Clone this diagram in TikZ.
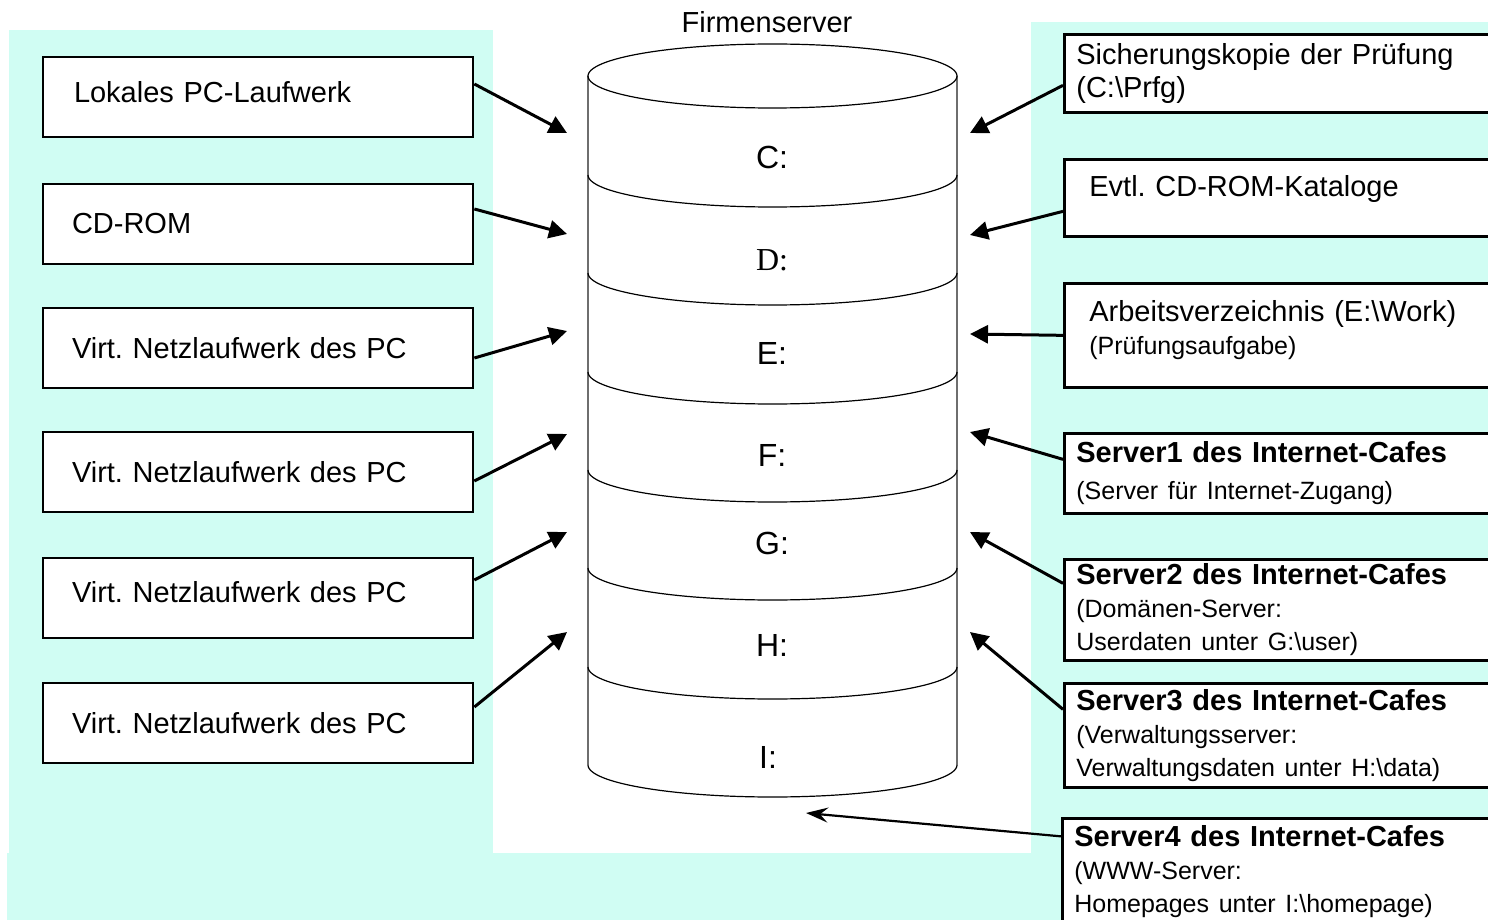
\documentclass[tikz,border=0pt]{standalone}
\usepackage{fontspec}
\setmainfont{Liberation Sans}
\newfontfamily\serifD{Liberation Serif}
\usetikzlibrary{arrows.meta,calc}
\definecolor{bgcyan}{RGB}{208,253,243}
\definecolor{sidegray}{RGB}{110,110,110}
\newcommand\subt{\fontsize{25}{29}\selectfont}
\begin{document}
\frenchspacing
\begin{tikzpicture}[x=1pt,y=-1pt,
  mainfont/.style={font=\fontsize{29}{33}\selectfont},
  lbox/.style={draw, line width=2.7pt, fill=white, minimum width=430pt, minimum height=80pt,
    text width=372pt, inner xsep=29pt, align=left, mainfont},
  rbox/.style={draw, line width=2.7pt, fill=white, anchor=north west, minimum width=500pt,
    text width=476pt, inner xsep=12pt, align=left, mainfont},
  rboxwide/.style={rbox, inner xsep=25pt, text width=450pt},
  seglabel/.style={font=\fontsize{32}{36}\selectfont},
  arr/.style={line width=3pt, -{Triangle[length=18pt,width=18pt]}},
  thinarr/.style={line width=2.2pt, -{Stealth[length=22pt,width=15pt,inset=8pt]}},
  cylline/.style={line width=1.2pt, black},
  cylside/.style={line width=1.6pt, sidegray}]
\useasboundingbox (0,0) rectangle (1488,920);
% background areas
\fill[bgcyan] (9,30) rectangle (493,853);
\fill[bgcyan] (7,853) rectangle (1031,920);
\fill[bgcyan] (1031,22) rectangle (1488,920);

% cylinder
\draw[cylside] (588,76) -- (588,765);
\draw[cylside] (957,76) -- (957,765);
\draw[cylline] plot[domain=0:360, samples=120, smooth] ({772.5+184.5*cos(\x)},{76+32*sin(\x)});
\foreach \yy in {175,273,372,470,568,667,765}{
  \draw[cylline] plot[domain=0:180, samples=60, smooth] ({772.5+184.5*cos(\x)},{\yy+32*sin(\x)});
}
\node[mainfont] (title) at (767,22) {Firmenserver};
\node[seglabel] (C) at (772,157) {C:};
\node[seglabel] (D) at (772,260) {\serifD D:};
\node[seglabel] (E) at (772,353) {E:};
\node[seglabel] (F) at (772,455) {F:};
\node[seglabel] (G) at (772,543) {G:};
\node[seglabel] (H) at (772,645) {H:};
\node[seglabel] (I) at (768,757) {I:};

% left boxes
\node[lbox] (L1) at (258,97) {\hspace*{2pt}Lokales PC-Laufwerk\rule[-10pt]{0pt}{0pt}};
\node[lbox] (L2) at (258,224) {CD-ROM};
\node[lbox] (L3) at (258,348) {Virt. Netzlaufwerk des PC};
\node[lbox] (L4) at (258,472) {Virt. Netzlaufwerk des PC};
\node[lbox] (L5) at (258,598) {Virt. Netzlaufwerk des PC\rule[-12pt]{0pt}{0pt}};
\node[lbox] (L6) at (258,723) {Virt. Netzlaufwerk des PC};

% right boxes
\node[rbox, minimum height=78pt] (R1) at (1063,33) {Sicherungskopie der Prüfung\\(C:\textbackslash Prfg)};
\node[rboxwide, minimum height=77pt] (R2) at (1063,158) {Evtl. CD-ROM-Kataloge\rule[-23pt]{0pt}{0pt}};
\node[rboxwide, minimum height=104pt] (R3) at (1063,282) {Arbeitsverzeichnis (E:\textbackslash Work)\\{\subt (Prüfungsaufgabe)}\rule[-16pt]{0pt}{0pt}};
\node[rbox, minimum height=80pt] (R4) at (1063,432) {{\bfseries Server1 des Internet-Cafes}\\[4pt]\subt (Server für Internet-Zugang)};
\node[rbox, minimum height=101pt] (R5) at (1063,558) {{\bfseries Server2 des Internet-Cafes}\\[4pt]\subt (Domänen-Server:\\Userdaten unter G:\textbackslash user)};
\node[rbox, minimum height=104pt] (R6) at (1063,682) {{\bfseries Server3 des Internet-Cafes}\\[4pt]\subt (Verwaltungsserver:\\Verwaltungsdaten unter H:\textbackslash data)};
\node[rbox, minimum height=106pt] (R7) at (1061,817) {{\bfseries Server4 des Internet-Cafes}\\[4pt]\subt (WWW-Server:\\Homepages unter I:\textbackslash homepage)};

% arrow tips
\coordinate (tL1) at (567,133);
\coordinate (tL2) at (567,234);
\coordinate (tL3) at (567,331);
\coordinate (tL4) at (567,434);
\coordinate (tL5) at (567,532);
\coordinate (tL6) at (567,632);
\coordinate (tR1) at (970,133);
\coordinate (tR2) at (970,235);
\coordinate (tR3) at (970,334);
\coordinate (tR4) at (970,432);
\coordinate (tR5) at (970,532);
\coordinate (tR6) at (970,632);
\coordinate (tR7) at (806,813);

% left arrows
\draw[arr] ($(L1.east)+(0,-13)$) -- (tL1);
\draw[arr] ($(L2.east)+(0,-15)$) -- (tL2);
\draw[arr] ($(L3.east)+(0,10)$) -- (tL3);
\draw[arr] ($(L4.east)+(0,9)$) -- (tL4);
\draw[arr] ($(L5.east)+(0,-18)$) -- (tL5);
\draw[arr] ($(L6.east)+(0,-16)$) -- (tL6);

% right arrows
\draw[arr] ($(R1.west)+(0,12)$) -- (tR1);
\draw[arr] ($(R2.west)+(0,13.5)$) -- (tR2);
\draw[arr] (R3.west) -- (tR3);
\draw[arr] ($(R4.west)+(0,-14)$) -- (tR4);
\draw[arr] ($(R5.west)+(0,-26.5)$) -- (tR5);
\draw[arr] ($(R6.west)+(0,-26)$) -- (tR6);
\draw[thinarr] ($(R7.west)+(0,-35)$) -- (tR7);
\end{tikzpicture}
\end{document}
